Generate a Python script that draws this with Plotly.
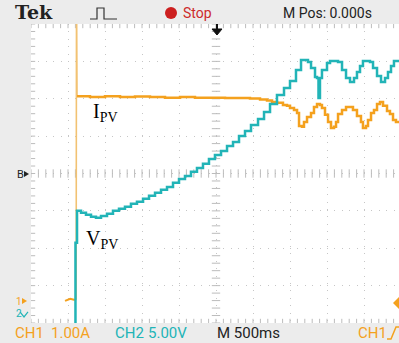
import plotly.graph_objects as go

# ---------------- data ----------------
# CH1 : PV current (A), CH2 : PV voltage (V); time in seconds (M Pos 0 = centre)
pre_t = [-2.04, -1.97, -1.92, -1.89]
pre_i = [0.05, 0.11, 0.08, 0.08]

spike_t = [-1.89, -1.885, -1.878]
spike_i = [0.08, 8.5, 5.53]

ipv_t = [-1.878, -1.703, -1.500, -1.297, -1.095, -0.892, -0.689, -0.486, -0.284, -0.081,
         0.122, 0.324, 0.459, 0.595, 0.689, 0.757, 0.824, 0.905, 0.959, 1.000,
         1.054, 1.095, 1.122, 1.162, 1.189, 1.230, 1.284, 1.324, 1.365, 1.405,
         1.432, 1.473, 1.514, 1.554, 1.595, 1.622, 1.649, 1.703, 1.757, 1.811,
         1.851, 1.905, 1.959, 1.986, 2.027, 2.054, 2.095, 2.135, 2.176, 2.216,
         2.257, 2.311, 2.351, 2.392, 2.432, 2.473]
ipv_a = [5.53, 5.51, 5.53, 5.51, 5.52, 5.51, 5.49, 5.51, 5.49, 5.49,
         5.48, 5.48, 5.47, 5.44, 5.41, 5.37, 5.35, 5.29, 5.27, 5.21,
         5.16, 5.08, 4.73, 4.71, 4.84, 4.97, 5.08, 5.24, 5.32, 5.29,
         5.21, 5.03, 4.84, 4.68, 4.71, 4.84, 5.05, 5.16, 5.24, 5.24,
         5.16, 5.00, 4.84, 4.68, 4.73, 4.89, 5.08, 5.16, 5.32, 5.37,
         5.27, 5.13, 5.05, 4.89, 4.84, 4.84]

vpv_t = [-1.905, -1.899, -1.878, -1.824, -1.757, -1.689, -1.622, -1.554, -1.473, -1.392,
         -1.311, -1.230, -1.149, -1.068, -0.986, -0.905, -0.824, -0.743, -0.662, -0.581,
         -0.500, -0.419, -0.338, -0.257, -0.176, -0.095, -0.014, 0.068, 0.149, 0.230,
         0.311, 0.392, 0.473, 0.568, 0.649, 0.730, 0.824, 0.919, 1.000, 1.081,
         1.149, 1.243, 1.284, 1.338, 1.365, 1.385, 1.405, 1.432, 1.500, 1.541,
         1.649, 1.703, 1.757, 1.811, 1.865, 1.905, 1.946, 1.986, 2.081, 2.122,
         2.176, 2.230, 2.284, 2.324, 2.365, 2.405, 2.473]
vpv_v = [-3.07, 9.22, 13.50, 13.24, 12.97, 12.70, 12.57, 12.83, 13.10, 13.50,
         13.77, 14.04, 14.44, 14.71, 15.11, 15.51, 15.91, 16.31, 16.71, 17.25,
         17.78, 18.18, 18.72, 19.25, 19.79, 20.45, 20.99, 21.52, 22.19, 22.73,
         23.53, 24.20, 25.00, 25.80, 26.74, 27.81, 29.01, 29.95, 30.88, 32.35,
         33.69, 33.42, 32.62, 31.42, 31.28, 28.61, 31.28, 32.35, 33.29, 33.56,
         33.42, 32.35, 31.28, 30.75, 31.28, 32.09, 32.89, 33.56, 33.42, 32.62,
         31.55, 30.75, 31.28, 32.09, 32.89, 33.56, 33.69]

# scope settings
CH1_SCALE = 1.0     # A/div
CH2_SCALE = 5.0     # V/div
TIME_SCALE = 0.5    # s/div
CH1_GND_DIV = -3.46
CH2_GND_DIV = -3.70

ORANGE = "#F4A11E"
TEAL = "#22B4B7"

# ---------------- geometry helpers ----------------
W, H = 399, 343
L, R, T, B = 31, 0, 24, 20
PW, PH = W - L - R, H - T - B
NDIV_X = PW / 37.0


def px(x):
    return (x - L) / PW


def py(y):
    return (H - B - y) / PH


fig = go.Figure()

# graticule ticks (division axes x/y)
tick_x = [k / 5 for k in range(0, 51)]
tick_y = [-4 + k / 5 for k in range(0, 41)]
tc = "#bcbcbc"
fig.add_trace(go.Scatter(x=tick_x * 3, y=[0] * len(tick_x) + [4] * len(tick_x) + [-4] * len(tick_x),
                         mode="markers", xaxis="x", yaxis="y", hoverinfo="skip", showlegend=False,
                         marker=dict(symbol="line-ns", size=6, line=dict(width=1, color=tc))))
fig.add_trace(go.Scatter(x=[5] * len(tick_y) + [0] * len(tick_y), y=tick_y * 2,
                         mode="markers", xaxis="x", yaxis="y", hoverinfo="skip", showlegend=False,
                         marker=dict(symbol="line-ew", size=6, line=dict(width=1, color=tc))))

# traces
fig.add_trace(go.Scatter(x=vpv_t, y=vpv_v, mode="lines", xaxis="x2", yaxis="y3",
                         line=dict(color=TEAL, width=2.5, shape="hv"), showlegend=False))
fig.add_trace(go.Scatter(x=pre_t, y=pre_i, mode="lines", xaxis="x2", yaxis="y2",
                         line=dict(color=ORANGE, width=2), showlegend=False))
fig.add_trace(go.Scatter(x=spike_t, y=spike_i, mode="lines", xaxis="x2", yaxis="y2",
                         line=dict(color="#F2C272", width=1.6), showlegend=False))
fig.add_trace(go.Scatter(x=ipv_t, y=ipv_a, mode="lines", xaxis="x2", yaxis="y2",
                         line=dict(color=ORANGE, width=2.5, shape="hv"), showlegend=False))

t0 = -5 * TIME_SCALE
i_lo = (-4 - CH1_GND_DIV) * CH1_SCALE
v_lo = (-4 - CH2_GND_DIV) * CH2_SCALE

grid = dict(showgrid=True, gridcolor="#c6c6c6", gridwidth=1, griddash="1px,6.4px",
            zeroline=False, showticklabels=False, ticks="", showline=False, fixedrange=True)
fig.update_layout(
    width=W, height=H, margin=dict(l=L, r=R, t=T, b=B),
    paper_bgcolor="#ececec", plot_bgcolor="#ffffff",
    xaxis=dict(range=[0, NDIV_X], dtick=1, tick0=0, **grid),
    yaxis=dict(range=[-4, 4], dtick=1, tick0=-4, **grid),
    xaxis2=dict(range=[t0, t0 + NDIV_X * TIME_SCALE], overlaying="x", visible=False),
    yaxis2=dict(range=[i_lo, i_lo + 8 * CH1_SCALE], overlaying="y", visible=False),
    yaxis3=dict(range=[v_lo, v_lo + 8 * CH2_SCALE], overlaying="y", visible=False),
)

# ---------------- texts ----------------
def txt(x, y, s, size, color, family="Roboto, Arial, sans-serif", xa="left"):
    fig.add_annotation(x=px(x), y=py(y), xref="paper", yref="paper", text=s, showarrow=False,
                       xanchor=xa, yanchor="middle", font=dict(size=size, color=color, family=family))


txt(13, 12, "<b>Tek</b>", 19, "#222222", "DejaVu Serif, Liberation Serif, serif")
txt(181, 13, "Stop", 14, "#cc2b2b")
txt(281, 13, "M Pos: 0.000s", 14, "#222222")
txt(13, 333, "CH1", 15, ORANGE)
txt(49, 333, "1.00A", 15, ORANGE)
txt(113, 333, "CH2", 15, TEAL)
txt(146, 333, "5.00V", 15, TEAL)
txt(215, 333, "M 500ms", 15, "#222222")
txt(356, 333, "CH1", 15, ORANGE)

txt(91, 112, "I<sub>PV</sub>", 20, "#000000", "Liberation Serif, Times New Roman, serif")
txt(84, 239, "V<sub>PV</sub>", 20, "#000000", "Liberation Serif, Times New Roman, serif")

txt(15, 174, "B", 11, "#222222")
txt(14, 301, "1", 10, ORANGE)
txt(14, 313, "2", 10, TEAL)

# ---------------- icons ----------------
def path(pts, close=False):
    s = "M " + " L ".join(f"{px(x):.5f},{py(y):.5f}" for x, y in pts)
    return s + (" Z" if close else "")


shapes = []
# run/acquire pulse icon
shapes.append(dict(type="path", xref="paper", yref="paper",
                   path=path([(90, 19), (97, 19), (97, 8), (104, 8), (104, 19), (117, 19)]),
                   line=dict(color="#333333", width=1.2)))
# stop dot
shapes.append(dict(type="circle", xref="paper", yref="paper",
                   x0=px(165), x1=px(177), y0=py(19), y1=py(7),
                   fillcolor="#cc1f1f", line=dict(width=0)))
# trigger position arrow
shapes.append(dict(type="path", xref="paper", yref="paper",
                   path=path([(212, 29), (222, 29), (217, 35)], True),
                   fillcolor="#111111", line=dict(color="#111111", width=1)))
shapes.append(dict(type="line", xref="paper", yref="paper", x0=px(217), x1=px(217), y0=py(24), y1=py(31),
                   line=dict(color="#111111", width=2)))
# channel / trigger level markers
shapes.append(dict(type="path", xref="paper", yref="paper",
                   path=path([(24, 171), (29, 174), (24, 177)], True),
                   fillcolor="#222222", line=dict(width=0)))
shapes.append(dict(type="path", xref="paper", yref="paper",
                   path=path([(22, 298), (27, 301), (22, 304)], True),
                   fillcolor=ORANGE, line=dict(width=0)))
shapes.append(dict(type="path", xref="paper", yref="paper",
                   path=path([(20, 312), (24, 317), (28, 312)]),
                   line=dict(color=TEAL, width=1.2)))
shapes.append(dict(type="path", xref="paper", yref="paper",
                   path=path([(399, 297), (393, 303), (399, 309)], True),
                   fillcolor=ORANGE, line=dict(width=0)))
# trigger slope icon in footer
shapes.append(dict(type="path", xref="paper", yref="paper",
                   path=path([(387, 339), (391, 339), (396, 327), (399, 327)]),
                   line=dict(color=ORANGE, width=1.5)))
fig.update_layout(shapes=shapes)

fig.write_html("out.html")
